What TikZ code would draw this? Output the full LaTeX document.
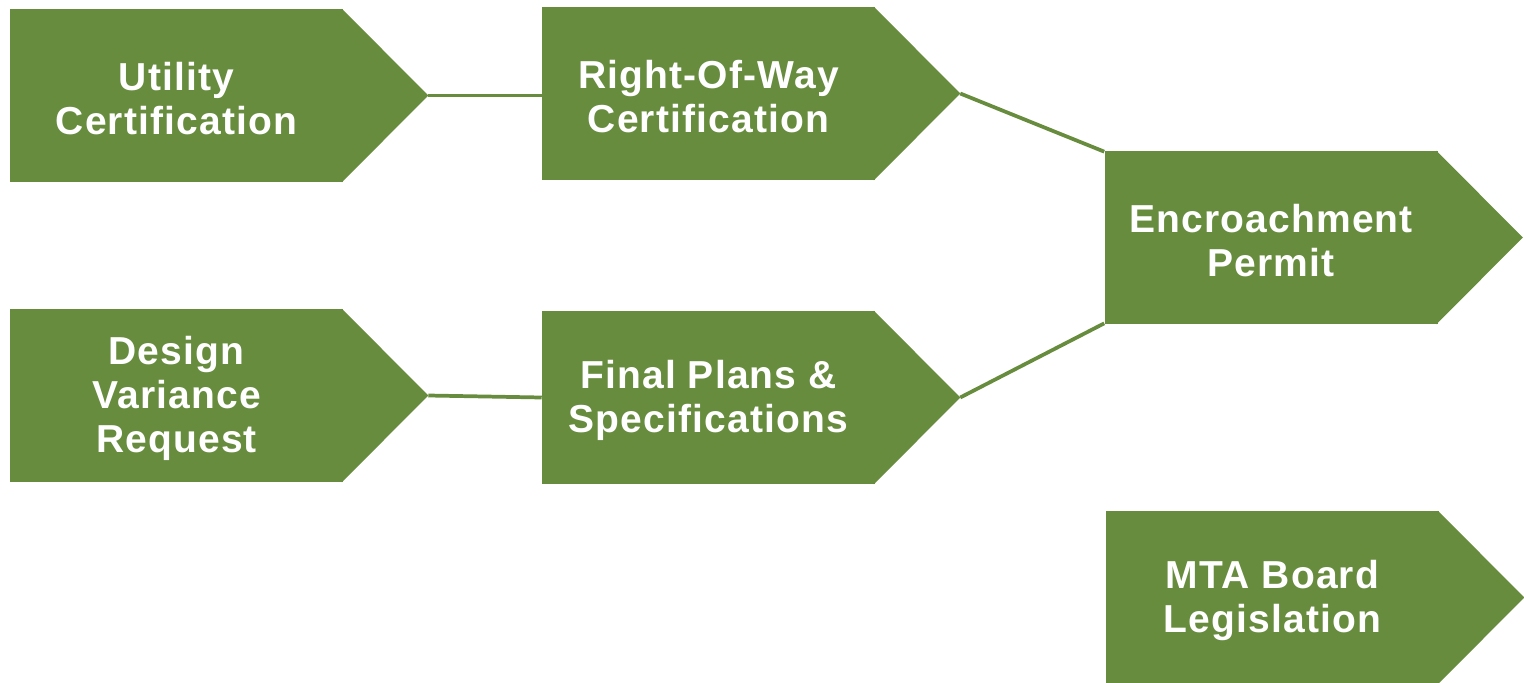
\documentclass[tikz,border=0pt]{standalone}
\usepackage{fontspec}
\setmainfont{Liberation Sans}
\newfontfamily\boxfont[LetterSpace=3]{Liberation Sans}
\usetikzlibrary{calc}
\definecolor{leaf}{RGB}{103,140,62}
\begin{document}
\begin{tikzpicture}[x=0.75pt,y=-0.75pt,
  box/.style={fill=leaf,draw=none,minimum width=249.75pt,minimum height=129.75pt,inner sep=0pt},
  lbl/.style={text=white,align=center,inner sep=0pt,font=\boxfont\bfseries\fontsize{29.25}{33}\selectfont},
  tipfill/.style={fill=leaf,draw=none},
  conn/.style={draw=leaf,line width=2.8pt}]
\useasboundingbox (0,0) rectangle (1524,682);
% boxes
\node[box] (u) at (176.5,95.5) {};
\node[box] (r) at (708.5,93.5) {};
\node[box] (e) at (1271,237.5) {};
\node[box] (d) at (176.5,395.5) {};
\node[box] (f) at (708.5,397.5) {};
\node[box] (m) at (1272.5,597.5) {};
% tips
\foreach \n in {u,r,e,d,f,m}{
  \fill[tipfill] ([xshift=-1pt]\n.north east) -- ($(\n.east)+(85,0)$) coordinate (\n tip) -- ([xshift=-1pt]\n.south east) -- cycle;
}
% labels
\node[lbl] (ul) at ($(u.center)+(0,3)$) {Utility\\Certification};
\node[lbl] (rl) at ($(r.center)+(0,3)$) {Right-Of-Way\\Certification};
\node[lbl] (el) at ($(e.center)+(0,3)$) {Encroachment\\Permit};
\node[lbl] (dl) at ($(d.center)+(0,3)$) {Design\\Variance\\Request};
\node[lbl] (fl) at ($(f.center)+(0,3)$) {Final Plans \&\\Specifications};
\node[lbl] (ml) at ($(m.center)+(0,3)$) {MTA Board\\Legislation};
% connectors
\draw[conn] (utip) -- (utip -| r.west);
\draw[conn] (dtip) -- (f.west);
\draw[conn] (rtip) -- ([yshift=-0.7pt]e.north west);
\draw[conn] (ftip) -- ([yshift=0.7pt]e.south west);
\end{tikzpicture}
\end{document}
